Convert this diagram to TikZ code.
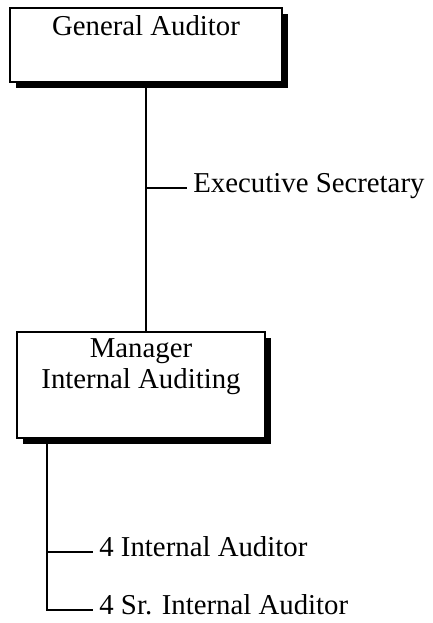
\documentclass[tikz,border=0pt]{standalone}
\usepackage{fontspec}
\setmainfont{Liberation Serif}
\usetikzlibrary{shadows}
\tikzset{orgbox/.style={draw, line width=1pt, fill=white, inner sep=0pt, align=center,
  drop shadow={shadow xshift=3pt, shadow yshift=-3.2pt, opacity=1, fill=black},
  font=\fontsize{14.4}{15.5}\selectfont},
  lbl/.style={anchor=west, inner xsep=3pt, inner ysep=0pt, text height=7pt, text depth=3pt,
  font=\fontsize{14.4}{15.5}\selectfont},
  link/.style={draw, line width=1pt, color=black}}

\begin{document}
\begin{tikzpicture}[x=0.5pt,y=-0.5pt]
\useasboundingbox (0,0) rectangle (433,623);
\node[orgbox, anchor=base, minimum width=136pt, text height=13.5pt, text depth=23.5pt] (gen) at (146,35) {General Auditor};
\node[orgbox, anchor=base, minimum width=124pt, text height=28pt, text depth=25pt] (mgr) at (141,388) {Manager\\Internal Auditing};
\node[lbl] (sec) at (187,188) {Executive Secretary};
\node[lbl] (ia) at (93,552) {4 Internal Auditor};
\node[lbl] (sia) at (93,610) {4 Sr. Internal Auditor};
\coordinate (trunk) at (47,0);

\path[link] (gen.south) -- (gen.south |- mgr.north);
\path[link] (gen.south |- sec.west) -- (sec.west);
\path[link] (trunk |- mgr.south) -- (trunk |- sia.west) -- (sia.west);
\path[link] (trunk |- ia.west) -- (ia.west);

\end{tikzpicture}
\end{document}
